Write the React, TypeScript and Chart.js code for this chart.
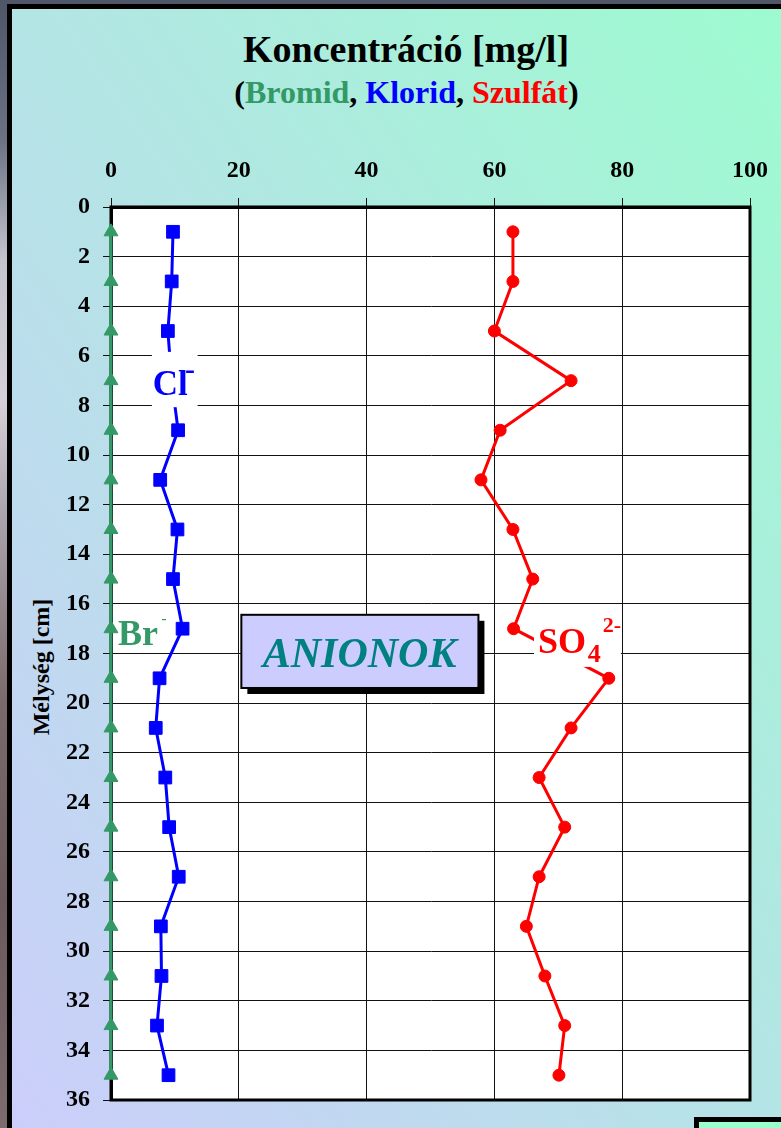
import React, { useEffect, useRef } from "react";
import { Chart, registerables } from "chart.js";

Chart.register(...registerables);

// ---- data ----
const depths = [1, 3, 5, 7, 9, 11, 13, 15, 17, 19, 21, 23, 25, 27, 29, 31, 33, 35];
const bromideValues = [0, 0, 0, 0, 0, 0, 0, 0, 0, 0, 0, 0, 0, 0, 0, 0, 0, 0];
const chlorideValues = [9.7, 9.5, 8.9, 9.5, 10.5, 7.7, 10.4, 9.7, 11.2, 7.6, 7.0, 8.5, 9.1, 10.6, 7.8, 7.9, 7.2, 9.0];
const sulfateValues = [62.9, 62.9, 60.0, 72.0, 60.9, 57.9, 62.9, 66.0, 63.0, 77.9, 72.0, 67.0, 71.0, 67.0, 65.0, 67.9, 71.0, 70.1];
const xTickValues = [0, 20, 40, 60, 80, 100];
const yTickValues = [0, 2, 4, 6, 8, 10, 12, 14, 16, 18, 20, 22, 24, 26, 28, 30, 32, 34, 36];

const SERIF = '"Liberation Serif", "Times New Roman", serif';
const GREEN = "#339966";

const annotationPlugin = {
  id: "anionAnnotations",
  beforeDraw(chart: any) {
    const { ctx, chartArea: a } = chart;
    ctx.save();
    ctx.fillStyle = "#fff";
    ctx.fillRect(a.left, a.top, a.right - a.left, a.bottom - a.top);
    ctx.restore();
  },
  beforeDatasetsDraw(chart: any) {
    const { ctx, chartArea: a, scales } = chart;
    const x = scales.x;
    const y = scales.y;
    ctx.save();
    // Br label background (covers gridlines only)
    ctx.fillStyle = "#fff";
    const bx0 = x.getPixelForValue(0.3), bx1 = x.getPixelForValue(8.9);
    const by0 = y.getPixelForValue(16.08), by1 = y.getPixelForValue(17.94);
    ctx.fillRect(bx0, by0, bx1 - bx0, by1 - by0);
    // frame
    ctx.strokeStyle = "#000";
    ctx.lineWidth = 3;
    ctx.strokeRect(a.left, a.top, a.right - a.left, a.bottom - a.top);
    ctx.restore();
  },
  afterDatasetsDraw(chart: any) {
    const { ctx, scales } = chart;
    const x = scales.x;
    const y = scales.y;
    const box = (x0: number, x1: number, y0: number, y1: number) => {
      const p0 = x.getPixelForValue(x0), p1 = x.getPixelForValue(x1);
      const q0 = y.getPixelForValue(y0), q1 = y.getPixelForValue(y1);
      return [p0, q0, p1 - p0, q1 - q0];
    };
    ctx.save();
    ctx.textBaseline = "alphabetic";
    ctx.textAlign = "left";

    // Cl- label
    ctx.fillStyle = "#fff";
    const [cx, cy, cw, ch] = box(6.4, 13.55, 5.84, 8.07);
    ctx.fillRect(cx, cy, cw, ch);
    ctx.fillStyle = "#0000ff";
    ctx.font = `bold 35px ${SERIF}`;
    ctx.fillText("Cl", x.getPixelForValue(6.54), y.getPixelForValue(7.58));
    ctx.font = `bold 30px ${SERIF}`;
    ctx.fillText("-", x.getPixelForValue(11.6), y.getPixelForValue(6.93));

    // Br- label
    ctx.fillStyle = GREEN;
    ctx.font = `bold 36px ${SERIF}`;
    ctx.fillText("Br", x.getPixelForValue(1.09), y.getPixelForValue(17.66));
    ctx.font = `bold 15px ${SERIF}`;
    ctx.fillText("-", x.getPixelForValue(7.9), y.getPixelForValue(16.77));

    // SO4 2- label
    ctx.fillStyle = "#fff";
    const [sx, sy, sw, sh] = box(66.2, 79.8, 16.16, 18.54);
    ctx.fillRect(sx, sy, sw, sh);
    ctx.fillStyle = "#ff0000";
    ctx.font = `bold 36px ${SERIF}`;
    ctx.fillText("SO", x.getPixelForValue(66.82), y.getPixelForValue(17.98));
    ctx.font = `bold 26px ${SERIF}`;
    ctx.fillText("4", x.getPixelForValue(74.61), y.getPixelForValue(18.34));
    ctx.font = `bold 22px ${SERIF}`;
    ctx.fillText("2-", x.getPixelForValue(76.95), y.getPixelForValue(17.13));

    // ANIONOK box
    const [ax, ay, aw, ah] = box(20.4, 57.5, 16.44, 19.39);
    ctx.fillStyle = "#000";
    ctx.fillRect(ax + 6, ay + 6, aw, ah);
    ctx.fillStyle = "#ccccff";
    ctx.fillRect(ax, ay, aw, ah);
    ctx.strokeStyle = "#000";
    ctx.lineWidth = 2;
    ctx.strokeRect(ax, ay, aw, ah);
    ctx.fillStyle = "#008080";
    ctx.font = `italic bold 42px ${SERIF}`;
    ctx.textAlign = "center";
    ctx.fillText("ANIONOK", x.getPixelForValue(38.9), y.getPixelForValue(18.54));
    ctx.restore();
  },
};

function AnionChart() {
  const canvasRef = useRef<HTMLCanvasElement | null>(null);

  useEffect(() => {
    const canvas = canvasRef.current;
    if (!canvas) return;
    Chart.defaults.font.family = SERIF;
    const toPoints = (vals: number[]) => depths.map((d, i) => ({ x: vals[i], y: d }));
    const chart = new Chart(canvas, {
      type: "scatter",
      data: {
        datasets: [
          {
            label: "Bromid",
            data: toPoints(bromideValues),
            showLine: true,
            borderColor: GREEN,
            backgroundColor: GREEN,
            borderWidth: 3,
            pointStyle: "triangle",
            pointRadius: 8,
            pointBorderWidth: 1,
            clip: false,
          },
          {
            label: "Klorid",
            data: toPoints(chlorideValues),
            showLine: true,
            borderColor: "#0000ff",
            backgroundColor: "#0000ff",
            borderWidth: 3,
            pointStyle: "rect",
            pointRadius: 9,
            pointBorderWidth: 1,
            clip: false,
          },
          {
            label: "Szulfát",
            data: toPoints(sulfateValues),
            showLine: true,
            borderColor: "#ff0000",
            backgroundColor: "#ff0000",
            borderWidth: 3,
            pointStyle: "circle",
            pointRadius: 6,
            pointBorderWidth: 1,
            clip: false,
          },
        ],
      },
      options: {
        animation: false,
        responsive: false,
        maintainAspectRatio: false,
        layout: { padding: { left: 0, right: 28, top: 0, bottom: 28 } },
        plugins: {
          legend: { display: false },
          tooltip: { enabled: false },
          title: { display: false },
        },
        scales: {
          x: {
            type: "linear",
            position: "top",
            min: 0,
            max: 100,
            afterFit: (s: any) => {
              s.height = 207;
            },
            afterBuildTicks: (s: any) => {
              s.ticks = xTickValues.map((v) => ({ value: v }));
            },
            ticks: {
              autoSkip: false,
              padding: 13,
              color: "#000",
              font: { size: 24, weight: "bold", family: SERIF },
            },
            grid: { color: "#111", lineWidth: 1, tickLength: 9, drawTicks: true },
            border: { display: true, color: "#000", width: 3 },
          },
          y: {
            type: "linear",
            reverse: true,
            min: 0,
            max: 36,
            afterFit: (s: any) => {
              s.width = 111;
            },
            afterBuildTicks: (s: any) => {
              s.ticks = yTickValues.map((v) => ({ value: v }));
            },
            ticks: {
              autoSkip: false,
              padding: 13,
              color: "#000",
              font: { size: 24, weight: "bold", family: SERIF },
            },
            grid: { color: "#111", lineWidth: 1, tickLength: 8, drawTicks: true },
            border: { display: true, color: "#000", width: 3 },
          },
        },
      },
      plugins: [annotationPlugin],
    } as any);
    return () => chart.destroy();
  }, []);

  return (
    <canvas
      ref={canvasRef}
      width={781}
      height={1128}
      style={{ position: "absolute", left: 0, top: 0, width: 781, height: 1128 }}
    />
  );
}

export default function App() {
  return (
    <div
      style={{
        position: "absolute",
        left: 0,
        top: 0,
        width: 781,
        height: 1128,
        overflow: "hidden",
        fontFamily: SERIF,
        background:
          "linear-gradient(to bottom, #4e5668 0px, #6a7284 140px, #c4c4cc 260px, #d6d0d8 400px, #aaa2aa 520px, #7a6a6c 700px, #6a5a5c 900px, #7c6c70 1128px)",
      }}
    >
      <div
        style={{
          position: "absolute",
          left: 7,
          top: 4,
          width: 800,
          height: 1150,
          borderLeft: "5px solid #000",
          borderTop: "5px solid #000",
          background: "linear-gradient(to bottom left, #9cfccf, #cccdfb)",
        }}
      />
      <div
        style={{
          position: "absolute",
          left: 0,
          top: 30,
          width: 812,
          textAlign: "center",
          fontSize: 38,
          lineHeight: "38px",
          fontWeight: "bold",
          color: "#000",
          whiteSpace: "nowrap",
        }}
      >
        Koncentráció [mg/l]
      </div>
      <div
        style={{
          position: "absolute",
          left: 0,
          top: 76,
          width: 813,
          textAlign: "center",
          fontSize: 32,
          lineHeight: "32px",
          fontWeight: "bold",
          color: "#000",
          whiteSpace: "nowrap",
        }}
      >
        (<span style={{ color: GREEN }}>Bromid</span>, <span style={{ color: "#0000ff" }}>Klorid</span>,{" "}
        <span style={{ color: "#ff0000" }}>Szulfát</span>)
      </div>
      <div
        style={{
          position: "absolute",
          left: 41,
          top: 667,
          transform: "translate(-50%, -50%) rotate(-90deg)",
          fontSize: 24,
          lineHeight: "24px",
          fontWeight: "bold",
          color: "#000",
          whiteSpace: "nowrap",
        }}
      >
        Mélység [cm]
      </div>
      <AnionChart />
      <div
        style={{
          position: "absolute",
          left: 694,
          top: 1117,
          width: 120,
          height: 60,
          boxSizing: "border-box",
          border: "5px solid #000",
          background: "#99ffcc",
        }}
      />
    </div>
  );
}
